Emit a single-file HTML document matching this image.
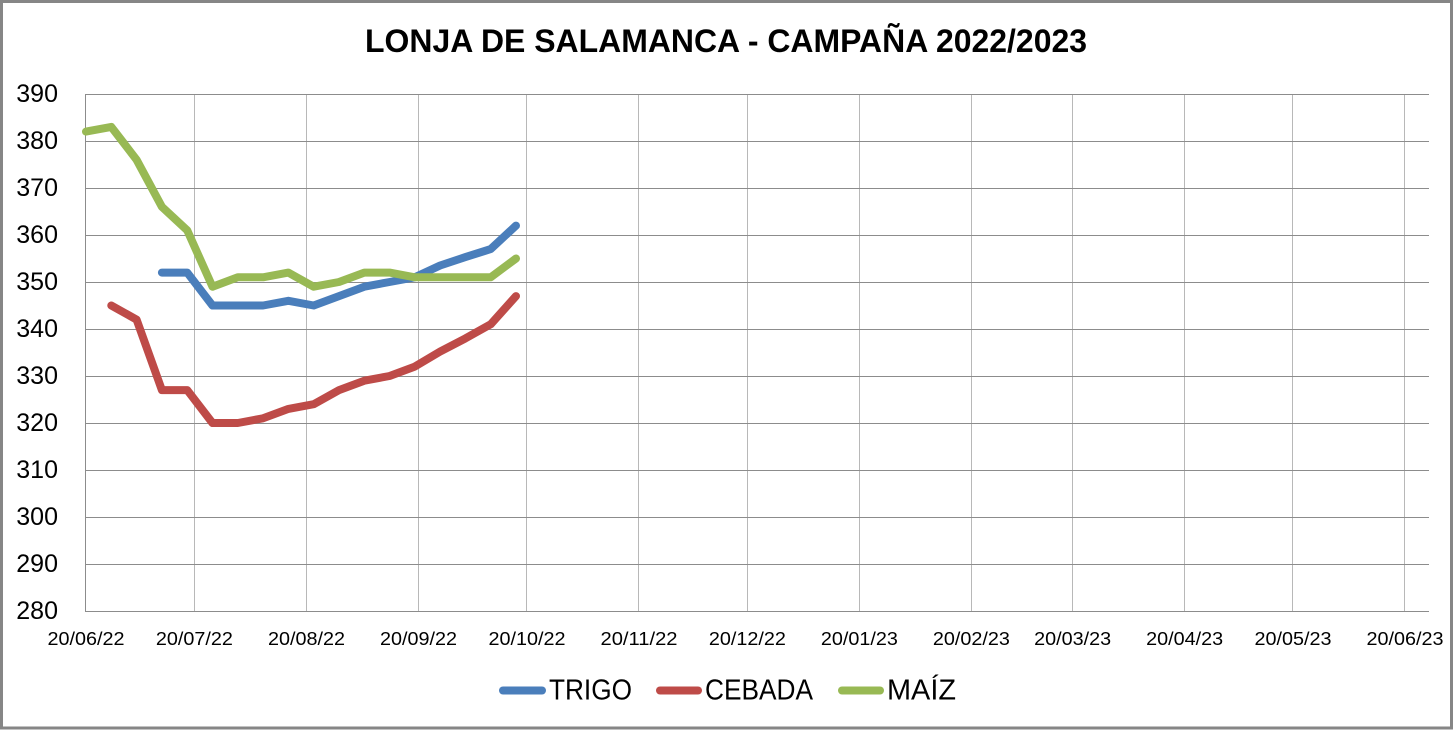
<!DOCTYPE html>
<html>
<head>
<meta charset="utf-8">
<style>
html,body{margin:0;padding:0;background:#fff;}
svg{display:block;}
text{font-family:"Liberation Sans",Arial,sans-serif;fill:#000;}
</style>
</head>
<body>
<svg width="1453" height="730" viewBox="0 0 1453 730" xmlns="http://www.w3.org/2000/svg">
<rect x="0" y="0" width="1453" height="730" fill="#fff"/>
<rect x="1.5" y="1.5" width="1450" height="726.5" fill="none" stroke="#868686" stroke-width="3"/>

<text x="726" y="52" text-anchor="middle" font-size="32" font-weight="bold" textLength="722" lengthAdjust="spacingAndGlyphs">LONJA DE SALAMANCA - CAMPAÑA 2022/2023</text>

<!-- vertical gridlines -->
<g stroke="#b8b8b8" stroke-width="1">
<line x1="194.5" y1="94" x2="194.5" y2="611"/>
<line x1="306.5" y1="94" x2="306.5" y2="611"/>
<line x1="418.5" y1="94" x2="418.5" y2="611"/>
<line x1="526.5" y1="94" x2="526.5" y2="611"/>
<line x1="638.5" y1="94" x2="638.5" y2="611"/>
<line x1="747.5" y1="94" x2="747.5" y2="611"/>
<line x1="859.5" y1="94" x2="859.5" y2="611"/>
<line x1="971.5" y1="94" x2="971.5" y2="611"/>
<line x1="1072.5" y1="94" x2="1072.5" y2="611"/>
<line x1="1184.5" y1="94" x2="1184.5" y2="611"/>
<line x1="1292.5" y1="94" x2="1292.5" y2="611"/>
<line x1="1404.5" y1="94" x2="1404.5" y2="611"/>
</g>
<!-- horizontal gridlines -->
<g stroke="#8c8c8c" stroke-width="1">
<line x1="86" y1="94.5" x2="1429" y2="94.5"/>
<line x1="86" y1="141.5" x2="1429" y2="141.5"/>
<line x1="86" y1="188.5" x2="1429" y2="188.5"/>
<line x1="86" y1="235.5" x2="1429" y2="235.5"/>
<line x1="86" y1="282.5" x2="1429" y2="282.5"/>
<line x1="86" y1="329.5" x2="1429" y2="329.5"/>
<line x1="86" y1="376.5" x2="1429" y2="376.5"/>
<line x1="86" y1="423.5" x2="1429" y2="423.5"/>
<line x1="86" y1="470.5" x2="1429" y2="470.5"/>
<line x1="86" y1="517.5" x2="1429" y2="517.5"/>
<line x1="86" y1="564.5" x2="1429" y2="564.5"/>
<line x1="86" y1="611.5" x2="1429" y2="611.5"/>
<line x1="85.5" y1="94" x2="85.5" y2="612"/>
</g>

<!-- y labels -->
<g font-size="25" text-anchor="end">
<text x="58" y="102">390</text>
<text x="58" y="149">380</text>
<text x="58" y="196">370</text>
<text x="58" y="243">360</text>
<text x="58" y="290">350</text>
<text x="58" y="337">340</text>
<text x="58" y="384">330</text>
<text x="58" y="431">320</text>
<text x="58" y="478">310</text>
<text x="58" y="525">300</text>
<text x="58" y="572">290</text>
<text x="58" y="619">280</text>
</g>

<!-- x labels -->
<g font-size="18" text-anchor="middle">
<text x="86" y="645" textLength="77" lengthAdjust="spacingAndGlyphs">20/06/22</text>
<text x="194.4" y="645" textLength="77" lengthAdjust="spacingAndGlyphs">20/07/22</text>
<text x="306.5" y="645" textLength="77" lengthAdjust="spacingAndGlyphs">20/08/22</text>
<text x="418.5" y="645" textLength="77" lengthAdjust="spacingAndGlyphs">20/09/22</text>
<text x="527" y="645" textLength="77" lengthAdjust="spacingAndGlyphs">20/10/22</text>
<text x="639" y="645" textLength="77" lengthAdjust="spacingAndGlyphs">20/11/22</text>
<text x="747.4" y="645" textLength="77" lengthAdjust="spacingAndGlyphs">20/12/22</text>
<text x="859.4" y="645" textLength="77" lengthAdjust="spacingAndGlyphs">20/01/23</text>
<text x="971.4" y="645" textLength="77" lengthAdjust="spacingAndGlyphs">20/02/23</text>
<text x="1072.6" y="645" textLength="77" lengthAdjust="spacingAndGlyphs">20/03/23</text>
<text x="1184.7" y="645" textLength="77" lengthAdjust="spacingAndGlyphs">20/04/23</text>
<text x="1293" y="645" textLength="77" lengthAdjust="spacingAndGlyphs">20/05/23</text>
<text x="1405" y="645" textLength="77" lengthAdjust="spacingAndGlyphs">20/06/23</text>
</g>

<!-- series -->
<g fill="none" stroke-width="8" stroke-linejoin="round" stroke-linecap="round">
<polyline stroke="#4A7EBB" points="161.9,272.6 187.2,272.6 212.5,305.5 237.8,305.5 263.1,305.5 288.4,300.8 313.7,305.5 339.0,296.1 364.3,286.7 389.6,282 414.8,277.3 440.1,265.5 465.4,257.1 490.7,249.1 516.0,225.6"/>
<polyline stroke="#BE4B48" points="111.3,305.5 136.6,319.6 161.9,390.1 187.2,390.1 212.5,423 237.8,423 263.1,418.3 288.4,408.9 313.7,404.2 339.0,390.1 364.3,380.7 389.6,376 414.8,366.6 440.1,351.6 465.4,338.4 490.7,324.3 516.0,296.1"/>
<polyline stroke="#98B954" points="86,131.6 111.3,126.9 136.6,159.8 161.9,206.8 187.2,230.3 212.5,286.7 237.8,277.3 263.1,277.3 288.4,272.6 313.7,286.7 339.0,282 364.3,272.6 389.6,272.6 414.8,277.3 440.1,277.3 465.4,277.3 490.7,277.3 516.0,258.5"/>
</g>

<!-- legend -->
<g stroke-width="8" stroke-linecap="round">
<line x1="503" y1="690.5" x2="542" y2="690.5" stroke="#4A7EBB"/>
<line x1="660" y1="690.5" x2="698" y2="690.5" stroke="#BE4B48"/>
<line x1="842" y1="690.5" x2="880" y2="690.5" stroke="#98B954"/>
</g>
<g font-size="29">
<text x="549" y="699.5" textLength="83" lengthAdjust="spacingAndGlyphs">TRIGO</text>
<text x="705" y="699.5" textLength="108" lengthAdjust="spacingAndGlyphs">CEBADA</text>
<text x="887" y="699.5" textLength="69" lengthAdjust="spacingAndGlyphs">MAÍZ</text>
</g>
</svg>
</body>
</html>
